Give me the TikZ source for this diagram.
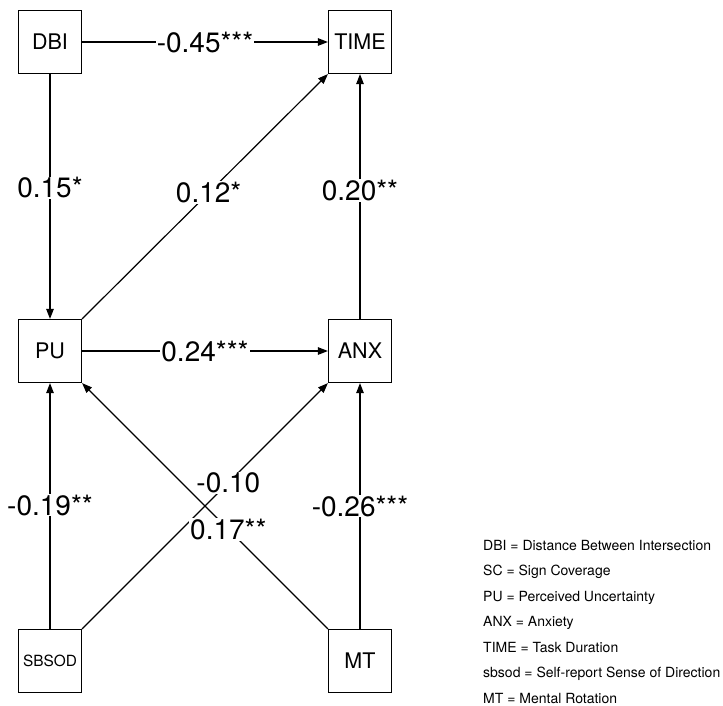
\documentclass[tikz,border=0pt]{standalone}
\usepackage{fontspec}
\setmainfont{TeX Gyre Heros}
\usetikzlibrary{arrows.meta}
\begin{document}
\begin{tikzpicture}[x=1pt,y=-1pt,
  box/.style={draw, line width=1.2pt, minimum width=63pt, minimum height=63pt, inner sep=0pt, font=\fontsize{21.5}{24}\selectfont},
  smallbox/.style={box, font=\fontsize{15.4}{18}\selectfont},
  arr/.style={line width=1.2pt, -{Triangle[length=10pt,width=7.5pt]}},
  lbl/.style={fill=white, inner sep=1pt, font=\fontsize{28}{32}\selectfont},
  leg/.style={anchor=base west, inner sep=0pt, font=\fontsize{14}{16}\selectfont}]
\useasboundingbox (0,0) rectangle (723,705);

\node[box] (dbi) at (50,42) {DBI};
\node[box] (time) at (360,42) {TIME};
\node[box] (pu) at (50,351) {PU};
\node[box] (anx) at (360,351) {ANX};
\node[smallbox] (sbsod) at (50,661) {SBSOD};
\node[box] (mt) at (360,661) {MT};

\draw[arr] (dbi) -- node[lbl, pos=0.5] (l45) {-0.45***} (time);
\draw[arr] (dbi) -- node[lbl, pos=0.465] (l15) {0.15*} (pu);
\draw[arr] (pu.north east) -- node[lbl, pos=0.515] (l12) {0.12*} (time.south west);
\draw[arr] (anx) -- node[lbl, pos=0.526] (l20) {0.20**} (time);
\draw[arr] (pu) -- node[lbl, pos=0.5] (l24) {0.24***} (anx);
\draw[arr] (sbsod) -- node[lbl, pos=0.504] (l19) {-0.19**} (pu);
\draw[arr] (sbsod.north east) -- (anx.south west);
\draw[arr] (mt.north west) -- (pu.south east);
\path (sbsod.north east) -- node[lbl, pos=0.595] (l10) {-0.10} (anx.south west);
\path (mt.north west) -- node[lbl, pos=0.405] (l17) {0.17**} (pu.south east);
\draw[arr] (mt) -- node[lbl, pos=0.5] (l26) {-0.26***} (anx);

\node[leg] (g1) at (483,550) {DBI = Distance Between Intersection};
\node[leg] (g2) at (483,575.5) {SC = Sign Coverage};
\node[leg] (g3) at (483,601) {PU = Perceived Uncertainty};
\node[leg] (g4) at (483,626.5) {ANX = Anxiety};
\node[leg] (g5) at (483,652) {TIME = Task Duration};
\node[leg] (g6) at (483,677.5) {sbsod = Self-report Sense of Direction};
\node[leg] (g7) at (483,703) {MT = Mental Rotation};
\end{tikzpicture}
\end{document}
